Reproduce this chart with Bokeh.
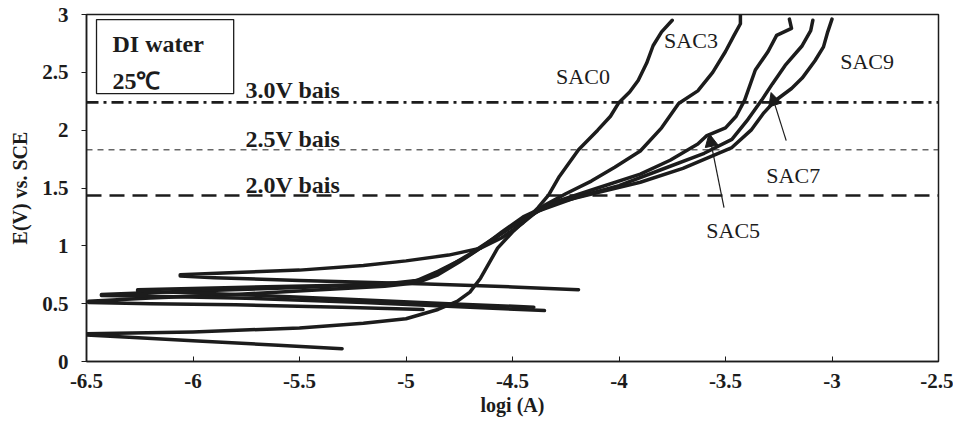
from bokeh.plotting import figure
from bokeh.models import (Range1d, FixedTicker, Span, Label, BoxAnnotation, Arrow, NormalHead)
from bokeh.embed import file_html
from bokeh.resources import INLINE

# ---------------- data ----------------
x_ticks = [-6.5, -6.0, -5.5, -5.0, -4.5, -4.0, -3.5, -3.0, -2.5]
x_tick_labels = ["-6.5", "-6", "-5.5", "-5", "-4.5", "-4", "-3.5", "-3", "-2.5"]
y_ticks = [0.0, 0.5, 1.0, 1.5, 2.0, 2.5, 3.0]
y_tick_labels = ["0", "0.5", "1", "1.5", "2", "2.5", "3"]

sac0_logi = [-5.30, -5.6, -6.0, -6.3, -6.5, -6.5, -6.0, -5.5, -5.2, -5.0, -4.85, -4.76, -4.70,
             -4.65, -4.61, -4.57, -4.50, -4.44, -4.38, -4.33, -4.28, -4.19, -4.10, -4.04,
             -4.0, -3.95, -3.91, -3.87, -3.84, -3.80, -3.75]
sac0_e = [0.11, 0.14, 0.18, 0.21, 0.23, 0.24, 0.255, 0.29, 0.33, 0.37, 0.45, 0.52, 0.60,
          0.72, 0.85, 0.98, 1.12, 1.22, 1.33, 1.44, 1.60, 1.83, 2.00, 2.12,
          2.24, 2.33, 2.43, 2.58, 2.73, 2.85, 2.95]

sac3_logi = [-4.19, -4.5, -4.9, -5.5, -5.9, -6.06, -6.06, -5.8, -5.5, -5.2, -5.0, -4.8, -4.65,
             -4.55, -4.45, -4.35, -4.25, -4.13, -4.02, -3.90, -3.80, -3.72, -3.63, -3.56,
             -3.50, -3.46, -3.43, -3.43]
sac3_e = [0.62, 0.645, 0.67, 0.70, 0.725, 0.74, 0.75, 0.77, 0.79, 0.83, 0.87, 0.92, 0.98,
          1.07, 1.20, 1.35, 1.45, 1.56, 1.68, 1.82, 2.02, 2.23, 2.34, 2.50,
          2.68, 2.82, 2.92, 3.0]

sac5_logi = [-4.92, -5.3, -5.8, -6.2, -6.49, -6.49, -6.2, -5.8, -5.4, -5.1, -4.95, -4.85, -4.75,
             -4.65, -4.55, -4.45, -4.30, -4.10, -3.90, -3.76, -3.63, -3.59, -3.50, -3.45,
             -3.41, -3.36, -3.30, -3.26, -3.19, -3.20]
sac5_e = [0.45, 0.47, 0.49, 0.50, 0.51, 0.52, 0.55, 0.58, 0.62, 0.65, 0.68, 0.75, 0.86,
          0.98, 1.12, 1.25, 1.38, 1.50, 1.62, 1.74, 1.88, 1.95, 2.02, 2.12,
          2.26, 2.52, 2.68, 2.82, 2.88, 2.96]

sac7_logi = [-4.35, -4.7, -5.2, -5.8, -6.2, -6.43, -6.43, -6.0, -5.5, -5.1, -4.95, -4.85, -4.72,
             -4.62, -4.50, -4.38, -4.20, -4.0, -3.8, -3.6, -3.47, -3.40, -3.33, -3.28,
             -3.22, -3.14, -3.10, -3.09]
sac7_e = [0.44, 0.47, 0.51, 0.55, 0.565, 0.57, 0.58, 0.61, 0.64, 0.67, 0.70, 0.78, 0.90,
          1.02, 1.17, 1.30, 1.42, 1.52, 1.66, 1.80, 1.92, 2.08, 2.26, 2.40,
          2.56, 2.73, 2.86, 2.95]

sac9_logi = [-4.4, -4.8, -5.3, -5.8, -6.26, -6.26, -5.8, -5.3, -5.0, -4.9, -4.8, -4.7, -4.6,
             -4.5, -4.4, -4.3, -4.1, -3.9, -3.7, -3.47, -3.38, -3.32, -3.27, -3.19,
             -3.14, -3.08, -3.04, -3.02, -3.0]
sac9_e = [0.47, 0.50, 0.54, 0.58, 0.61, 0.62, 0.64, 0.66, 0.68, 0.72, 0.82, 0.93, 1.05,
          1.17, 1.28, 1.37, 1.46, 1.55, 1.67, 1.85, 2.00, 2.15, 2.25, 2.36,
          2.45, 2.60, 2.72, 2.85, 2.96]

bias_levels = [2.24, 1.83, 1.435]
bias_names = ["3.0V bais", "2.5V bais", "2.0V bais"]

curve_names = ["SAC0", "SAC3", "SAC5", "SAC7", "SAC9"]
curve_label_x = [-4.169, -3.662, -3.464, -3.182, -2.835]
curve_label_y = [2.463, 2.774, 1.132, 1.608, 2.593]

# ---------------- figure ----------------
INK = "#1c1c1c"
SERIF = "Liberation Serif"

p = figure(frame_width=852, frame_height=347, min_border_left=86, min_border_right=15,
           min_border_top=14, min_border_bottom=52,
           x_range=Range1d(-6.5, -2.5), y_range=Range1d(0, 3),
           output_backend="svg", toolbar_location=None, background_fill_color="white",
           border_fill_color="white")
p.grid.visible = False
p.outline_line_color = INK
p.outline_line_width = 1.5

# axes
p.xaxis.ticker = FixedTicker(ticks=x_ticks)
p.yaxis.ticker = FixedTicker(ticks=y_ticks)
p.xaxis.major_label_overrides = {t: s for t, s in zip(x_ticks, x_tick_labels)}
p.yaxis.major_label_overrides = {t: s for t, s in zip(y_ticks, y_tick_labels)}
p.axis.axis_line_color = INK
p.axis.axis_line_width = 1.5
p.axis.major_tick_line_color = INK
p.axis.minor_tick_line_color = None
p.axis.major_label_text_font = SERIF
p.axis.major_label_text_font_style = "bold"
p.axis.major_label_text_font_size = "21px"
p.axis.major_label_text_color = INK
p.axis.axis_label_text_font = SERIF
p.axis.axis_label_text_font_style = "bold"
p.axis.axis_label_text_color = INK
p.xaxis.major_tick_in = 5
p.xaxis.major_tick_out = 0
p.xaxis.major_label_standoff = 12
p.xaxis.axis_label = "logi (A)"
p.xaxis.axis_label_text_font_size = "20px"
p.xaxis.axis_label_standoff = 3
p.yaxis.major_tick_in = 0
p.yaxis.major_tick_out = 5
p.yaxis.major_label_standoff = 13
p.yaxis.axis_label = "E(V) vs. SCE"
p.yaxis.axis_label_text_font_size = "20px"
p.yaxis.axis_label_standoff = 8

# bias lines
dashes = ["12 5 3 5", "6 5", "15 8"]
widths = [2.6, 1.0, 2.6]
for lvl, dsh, w in zip(bias_levels, dashes, widths):
    p.add_layout(Span(location=lvl, dimension="width", line_color=INK,
                      line_dash=dsh, line_width=w))

# curves
for xs, ys in [(sac0_logi, sac0_e), (sac3_logi, sac3_e), (sac5_logi, sac5_e),
               (sac7_logi, sac7_e), (sac9_logi, sac9_e)]:
    p.line(xs, ys, line_color=INK, line_width=3.5, line_join="round", line_cap="round")

# bias labels (vertical centre of the text)
bias_label_x = [-5.753, -5.753, -5.753]
bias_label_y = [2.351, 1.927, 1.530]
for name, bx, by in zip(bias_names, bias_label_x, bias_label_y):
    p.add_layout(Label(x=bx, y=by, text=name, text_font=SERIF, text_font_style="bold",
                       text_font_size="24px", text_color=INK, text_align="left",
                       text_baseline="middle"))

# curve labels
for name, lx, ly in zip(curve_names, curve_label_x, curve_label_y):
    p.add_layout(Label(x=lx, y=ly, text=name, text_font=SERIF,
                       text_font_size="22px", text_color=INK, text_align="center",
                       text_baseline="middle"))

# arrows to SAC5 / SAC7
arrow_start_x = [-3.507, -3.215]
arrow_start_y = [1.331, 1.91]
arrow_end_x = [-3.577, -3.286]
arrow_end_y = [1.971, 2.325]
for xs_, ys_, xe_, ye_ in zip(arrow_start_x, arrow_start_y, arrow_end_x, arrow_end_y):
    p.add_layout(Arrow(end=NormalHead(size=13, fill_color=INK, line_color=INK),
                       x_start=xs_, y_start=ys_, x_end=xe_, y_end=ye_,
                       line_color=INK, line_width=1.2))

# condition box
p.add_layout(BoxAnnotation(left=-6.453, right=-5.809, bottom=2.316, top=2.956,
                           fill_color="white", fill_alpha=1.0, line_color=INK,
                           line_width=1.3, line_alpha=1.0))
p.add_layout(Label(x=-6.378, y=2.749, text="DI water", text_font=SERIF,
                   text_font_style="bold", text_font_size="24px", text_color=INK,
                   text_baseline="middle"))
p.add_layout(Label(x=-6.378, y=2.429, text="25℃", text_font=SERIF,
                   text_font_style="bold", text_font_size="24px", text_color=INK,
                   text_baseline="middle"))

open("out.html", "w").write(file_html(p, INLINE))
